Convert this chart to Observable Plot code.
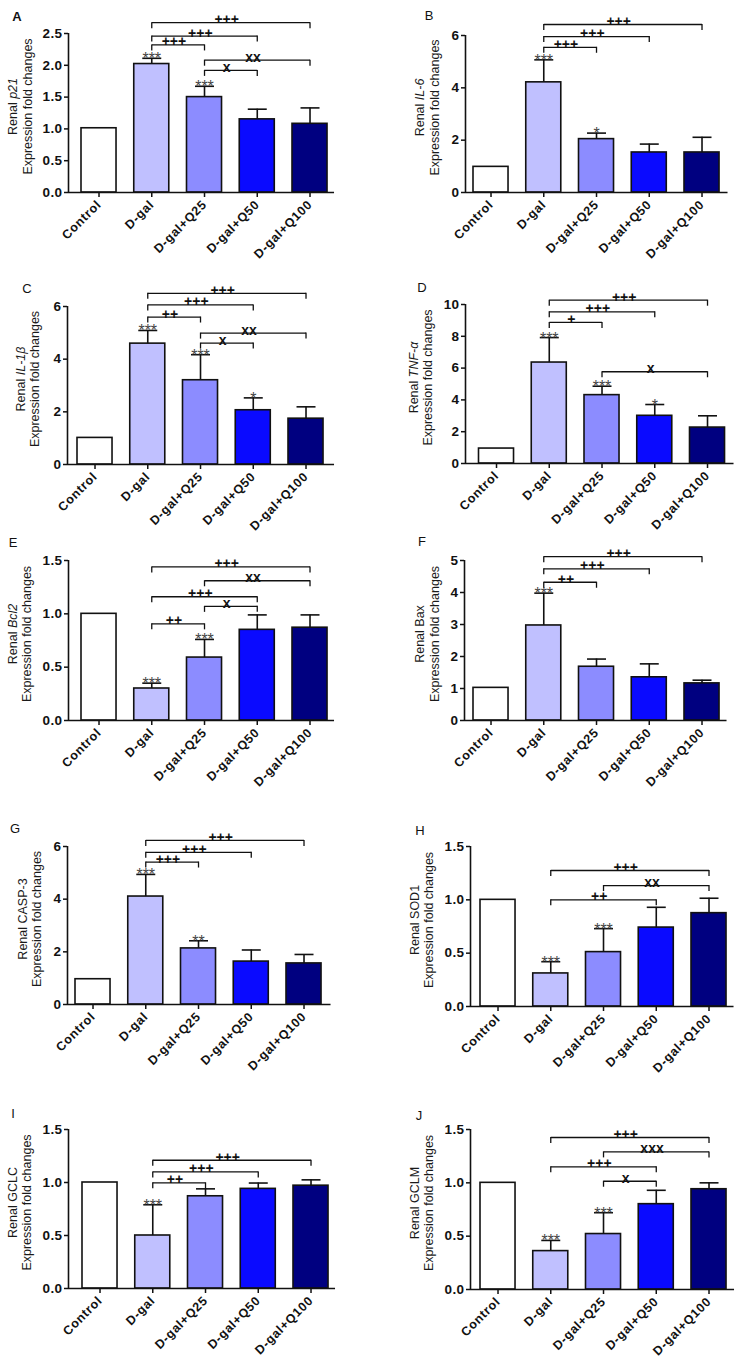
<!DOCTYPE html>
<html><head><meta charset="utf-8">
<script src="https://cdn.jsdelivr.net/npm/d3@7"></script>
<script src="https://cdn.jsdelivr.net/npm/@observablehq/plot@0.6"></script>
<style>
body{margin:0;background:#fff;}
#fig{position:relative;width:754px;height:1368px;background:#fff;font-family:"Liberation Sans",Arial,sans-serif;overflow:hidden;}
.panel{position:absolute;}
.xt text{letter-spacing:0.7px;}
.yt text{letter-spacing:0.4px;}
</style></head><body><div id="fig"></div>
<script>
const groups = ["Control","D-gal","D-gal+Q25","D-gal+Q50","D-gal+Q100"];
const barColors = ["#ffffff","#c0c0ff","#8c8cff","#0a0aff","#000080"];

// A: Renal p21
const p21Mean = [1.01, 2.02, 1.50, 1.15, 1.08];
const p21Err  = [0, 0.09, 0.17, 0.16, 0.25];
const p21Stars = ["", "***", "***", "", ""];
const p21Ticks = [0, 0.5, 1.0, 1.5, 2.0, 2.5];
const p21Brackets = [
  {from:"D-gal", to:"D-gal+Q25", y:2.32, label:"+++"},
  {from:"D-gal", to:"D-gal+Q50", y:2.46, label:"+++"},
  {from:"D-gal", to:"D-gal+Q100", y:2.67, label:"+++"},
  {from:"D-gal+Q25", to:"D-gal+Q50", y:1.92, label:"x"},
  {from:"D-gal+Q25", to:"D-gal+Q100", y:2.08, label:"xx"}
];

// B: Renal IL-6
const il6Mean = [0.98, 4.21, 2.04, 1.53, 1.53];
const il6Err  = [0, 0.86, 0.23, 0.32, 0.58];
const il6Stars = ["", "***", "*", "", ""];
const il6Ticks = [0, 2, 4, 6];
const il6Brackets = [
  {from:"D-gal", to:"D-gal+Q25", y:5.55, label:"+++"},
  {from:"D-gal", to:"D-gal+Q50", y:5.96, label:"+++"},
  {from:"D-gal", to:"D-gal+Q100", y:6.42, label:"+++"}
];

// C: Renal IL-1β
const il1bMean = [1.01, 4.59, 3.20, 2.06, 1.74];
const il1bErr  = [0, 0.50, 0.97, 0.47, 0.45];
const il1bStars = ["", "***", "***", "*", ""];
const il1bTicks = [0, 2, 4, 6];
const il1bBrackets = [
  {from:"D-gal", to:"D-gal+Q25", y:5.60, label:"++"},
  {from:"D-gal", to:"D-gal+Q50", y:6.06, label:"+++"},
  {from:"D-gal", to:"D-gal+Q100", y:6.50, label:"+++"},
  {from:"D-gal+Q25", to:"D-gal+Q50", y:4.61, label:"x"},
  {from:"D-gal+Q25", to:"D-gal+Q100", y:4.99, label:"xx"}
];

// D: Renal TNF-α
const tnfMean = [0.94, 6.35, 4.30, 3.00, 2.26];
const tnfErr  = [0, 1.57, 0.56, 0.71, 0.74];
const tnfStars = ["", "***", "***", "*", ""];
const tnfTicks = [0, 2, 4, 6, 8, 10];
const tnfBrackets = [
  {from:"D-gal", to:"D-gal+Q25", y:8.87, label:"+"},
  {from:"D-gal", to:"D-gal+Q50", y:9.54, label:"+++"},
  {from:"D-gal", to:"D-gal+Q100", y:10.27, label:"+++"},
  {from:"D-gal+Q25", to:"D-gal+Q100", y:5.77, label:"x"}
];

// E: Renal Bcl2
const bcl2Mean = [1.00, 0.30, 0.59, 0.85, 0.87];
const bcl2Err  = [0, 0.05, 0.17, 0.14, 0.12];
const bcl2Stars = ["", "***", "***", "", ""];
const bcl2Ticks = [0, 0.5, 1.0, 1.5];
const bcl2Brackets = [
  {from:"D-gal", to:"D-gal+Q25", y:0.906, label:"++"},
  {from:"D-gal+Q25", to:"D-gal+Q50", y:1.07, label:"x"},
  {from:"D-gal", to:"D-gal+Q50", y:1.16, label:"+++"},
  {from:"D-gal+Q25", to:"D-gal+Q100", y:1.31, label:"xx"},
  {from:"D-gal", to:"D-gal+Q100", y:1.44, label:"+++"}
];

// F: Renal Bax
const baxMean = [1.02, 2.97, 1.68, 1.35, 1.16];
const baxErr  = [0, 1.01, 0.24, 0.42, 0.10];
const baxStars = ["", "***", "", "", ""];
const baxTicks = [0, 1, 2, 3, 4, 5];
const baxBrackets = [
  {from:"D-gal", to:"D-gal+Q25", y:4.32, label:"++"},
  {from:"D-gal", to:"D-gal+Q50", y:4.74, label:"+++"},
  {from:"D-gal", to:"D-gal+Q100", y:5.12, label:"+++"}
];

// G: Renal CASP-3
const caspMean = [0.96, 4.10, 2.13, 1.63, 1.56];
const caspErr  = [0, 0.84, 0.29, 0.44, 0.34];
const caspStars = ["", "***", "**", "", ""];
const caspTicks = [0, 2, 4, 6];
const caspBrackets = [
  {from:"D-gal", to:"D-gal+Q25", y:5.41, label:"+++"},
  {from:"D-gal", to:"D-gal+Q50", y:5.78, label:"+++"},
  {from:"D-gal", to:"D-gal+Q100", y:6.23, label:"+++"}
];

// H: Renal SOD1
const sod1Mean = [1.00, 0.31, 0.51, 0.74, 0.875];
const sod1Err  = [0, 0.11, 0.22, 0.19, 0.14];
const sod1Stars = ["", "***", "***", "", ""];
const sod1Ticks = [0, 0.5, 1.0, 1.5];
const sod1Brackets = [
  {from:"D-gal", to:"D-gal+Q50", y:1.00, label:"++"},
  {from:"D-gal+Q25", to:"D-gal+Q100", y:1.134, label:"xx"},
  {from:"D-gal", to:"D-gal+Q100", y:1.275, label:"+++"}
];

// I: Renal GCLC
const gclcMean = [1.00, 0.50, 0.87, 0.94, 0.97];
const gclcErr  = [0, 0.29, 0.07, 0.055, 0.055];
const gclcStars = ["", "***", "", "", ""];
const gclcTicks = [0, 0.5, 1.0, 1.5];
const gclcBrackets = [
  {from:"D-gal", to:"D-gal+Q25", y:0.997, label:"++"},
  {from:"D-gal", to:"D-gal+Q50", y:1.10, label:"+++"},
  {from:"D-gal", to:"D-gal+Q100", y:1.21, label:"+++"}
];

// J: Renal GCLM
const gclmMean = [1.00, 0.36, 0.52, 0.80, 0.94];
const gclmErr  = [0, 0.10, 0.20, 0.13, 0.06];
const gclmStars = ["", "***", "***", "", ""];
const gclmTicks = [0, 0.5, 1.0, 1.5];
const gclmBrackets = [
  {from:"D-gal+Q25", to:"D-gal+Q50", y:1.015, label:"x"},
  {from:"D-gal", to:"D-gal+Q50", y:1.15, label:"+++"},
  {from:"D-gal+Q25", to:"D-gal+Q100", y:1.29, label:"xxx"},
  {from:"D-gal", to:"D-gal+Q100", y:1.425, label:"+++"}
];

const panels = [
  {key:"A", gene:"p21", italic:true, mean:p21Mean, err:p21Err, stars:p21Stars, ticks:p21Ticks, fmt:".1f", brackets:p21Brackets},
  {key:"B", gene:"IL-6", italic:true, mean:il6Mean, err:il6Err, stars:il6Stars, ticks:il6Ticks, fmt:"d", brackets:il6Brackets},
  {key:"C", gene:"IL-1β", italic:true, mean:il1bMean, err:il1bErr, stars:il1bStars, ticks:il1bTicks, fmt:"d", brackets:il1bBrackets},
  {key:"D", gene:"TNF-α", italic:true, mean:tnfMean, err:tnfErr, stars:tnfStars, ticks:tnfTicks, fmt:"d", brackets:tnfBrackets},
  {key:"E", gene:"Bcl2", italic:true, mean:bcl2Mean, err:bcl2Err, stars:bcl2Stars, ticks:bcl2Ticks, fmt:".1f", brackets:bcl2Brackets},
  {key:"F", gene:"Bax", italic:false, mean:baxMean, err:baxErr, stars:baxStars, ticks:baxTicks, fmt:"d", brackets:baxBrackets},
  {key:"G", gene:"CASP-3", italic:false, mean:caspMean, err:caspErr, stars:caspStars, ticks:caspTicks, fmt:"d", brackets:caspBrackets},
  {key:"H", gene:"SOD1", italic:false, mean:sod1Mean, err:sod1Err, stars:sod1Stars, ticks:sod1Ticks, fmt:".1f", brackets:sod1Brackets},
  {key:"I", gene:"GCLC", italic:false, mean:gclcMean, err:gclcErr, stars:gclcStars, ticks:gclcTicks, fmt:".1f", brackets:gclcBrackets},
  {key:"J", gene:"GCLM", italic:false, mean:gclmMean, err:gclmErr, stars:gclmStars, ticks:gclmTicks, fmt:".1f", brackets:gclmBrackets}
];

// Layout (pixels, relative to each panel box)
const layout = {
  A:{left:0,   top:0,    h:270, axisX:68, gapL:13, gapR:7,  yTop:33, y0:192, letter:[17,21],  lab:[13,28]},
  B:{left:377, top:0,    h:270, axisX:88, gapL:8,  gapR:8.5,yTop:35, y0:192, letter:[52,19.5],lab:[43,58]},
  C:{left:0,   top:270,  h:270, axisX:67, gapL:10, gapR:11, yTop:36, y0:194, letter:[27,22.5],lab:[21,35]},
  D:{left:377, top:270,  h:270, axisX:88, gapL:13.5,gapR:9, yTop:34, y0:193, letter:[45,21.5],lab:[37,51]},
  E:{left:0,   top:540,  h:280, axisX:68, gapL:13, gapR:7,  yTop:20, y0:180, letter:[13,7],   lab:[13,27]},
  F:{left:377, top:540,  h:280, axisX:87, gapL:9,  gapR:7.5,yTop:20, y0:180, letter:[45,6],   lab:[43,58]},
  G:{left:0,   top:820,  h:280, axisX:67, gapL:8,  gapR:9.5,yTop:26, y0:184, letter:[15,13],  lab:[23,37]},
  H:{left:377, top:820,  h:280, axisX:93, gapL:10, gapR:7.5,yTop:26, y0:186, letter:[43,14.5],lab:[38,52]},
  I:{left:0,   top:1100, h:268, axisX:68, gapL:14, gapR:7,  yTop:29, y0:188, letter:[13,17.5],lab:[13,27]},
  J:{left:377, top:1100, h:268, axisX:93, gapL:10, gapR:8,  yTop:29, y0:189, letter:[42,19.5],lab:[38,52]}
};

const FONT = '"Liberation Sans", Arial, Helvetica, sans-serif';
const fig = document.getElementById("fig");
const PW = 377, STEP = 52.75, HW = 0.332;

for (const p of panels) {
  const L = layout[p.key];
  const data = groups.map((g, i) => ({i, g, mean: p.mean[i], err: p.err[i], star: p.stars[i]}));
  const withErr = data.filter(d => d.err > 0);
  const starred = data.filter(d => d.star);
  const ymax = p.ticks[p.ticks.length - 1];
  const xLo = -HW - L.gapL / STEP, xHi = 4 + HW + L.gapR / STEP;
  const W = (xHi - xLo) * STEP;
  const frameH = L.y0 - L.yTop;
  const drop = 6 * ymax / frameH;
  const br = p.brackets.map(b => ({i1: groups.indexOf(b.from), i2: groups.indexOf(b.to), y: b.y, label: b.label}));
  const top = d => d.mean + d.err;

  const svg = Plot.plot({
    width: PW, height: L.h,
    marginLeft: L.axisX, marginRight: PW - L.axisX - W,
    marginTop: L.yTop, marginBottom: L.h - L.y0,
    x: {domain: [xLo, xHi], axis: null},
    y: {domain: [0, ymax], axis: null},
    color: {domain: groups, range: barColors},
    style: {fontFamily: FONT, fontSize: "12px", overflow: "visible", background: "transparent", color: "#111"},
    marks: [
      Plot.rectY(data, {x1: d => d.i - HW, x2: d => d.i + HW, y: "mean", fill: "g", stroke: "#111", strokeWidth: 1.6}),
      Plot.ruleX(withErr, {x: "i", y1: "mean", y2: top, stroke: "#111", strokeWidth: 1.6}),
      Plot.link(withErr, {x1: d => d.i - 0.18, x2: d => d.i + 0.18, y1: top, y2: top, stroke: "#111", strokeWidth: 1.6}),
      Plot.text(starred, {x: "i", y: top, text: "star", lineAnchor: "bottom", dy: 6, fontSize: 16, fill: "#444"}),
      Plot.link(br, {x1: "i1", x2: "i2", y1: "y", y2: "y", stroke: "#111", strokeWidth: 1.3}),
      Plot.ruleX(br, {x: "i1", y1: "y", y2: d => d.y - drop, stroke: "#111", strokeWidth: 1.3}),
      Plot.ruleX(br, {x: "i2", y1: "y", y2: d => d.y - drop, stroke: "#111", strokeWidth: 1.3}),
      Plot.text(br, {x: d => (d.i1 + d.i2) / 2 - 0.08, y: "y", text: "label", lineAnchor: "bottom", dy: 1.5, fontSize: 14, fontWeight: "bold", fill: "#111"}),
      Plot.ruleX([xLo], {y1: 0, y2: ymax, stroke: "#111", strokeWidth: 1.6}),
      Plot.ruleY([0], {stroke: "#111", strokeWidth: 1.6}),
      Plot.axisY({ticks: p.ticks, tickFormat: d3.format(p.fmt), tickSize: 4, tickPadding: 2, fontSize: 13.5, fontWeight: "bold", strokeWidth: 1.5, label: null, className: "yt"}),
      Plot.axisX({ticks: [0, 1, 2, 3, 4], tickFormat: i => groups[i], tickSize: 5, tickPadding: 5, tickRotate: -45, fontSize: 12.5, fontWeight: "bold", strokeWidth: 1.5, label: null, className: "xt"})
    ]
  });

  const s = d3.select(svg);
  // panel letter
  s.append("text").attr("x", L.letter[0]).attr("y", L.letter[1])
    .attr("text-anchor", "middle").attr("font-family", FONT).attr("font-size", 13)
    .attr("font-weight", p.key === "A" ? "bold" : "normal").attr("fill", "#111").text(p.key);
  // y-axis label (two lines)
  const cy = (L.yTop + L.y0) / 2 - 6;
  const t1 = s.append("text").attr("transform", `translate(${L.lab[0] + 4},${cy}) rotate(-90)`)
    .attr("text-anchor", "middle").attr("font-family", FONT).attr("font-size", 12.5).attr("fill", "#1a1a1a");
  t1.append("tspan").text("Renal ");
  t1.append("tspan").attr("font-style", p.italic ? "italic" : "normal").text(p.gene);
  s.append("text").attr("transform", `translate(${L.lab[1] + 4},${cy}) rotate(-90)`)
    .attr("text-anchor", "middle").attr("font-family", FONT).attr("font-size", 12.5).attr("fill", "#1a1a1a")
    .text("Expression fold changes");

  const div = document.createElement("div");
  div.className = "panel";
  div.style.left = L.left + "px";
  div.style.top = L.top + "px";
  div.appendChild(svg);
  fig.appendChild(div);
}
</script>
</body></html>
